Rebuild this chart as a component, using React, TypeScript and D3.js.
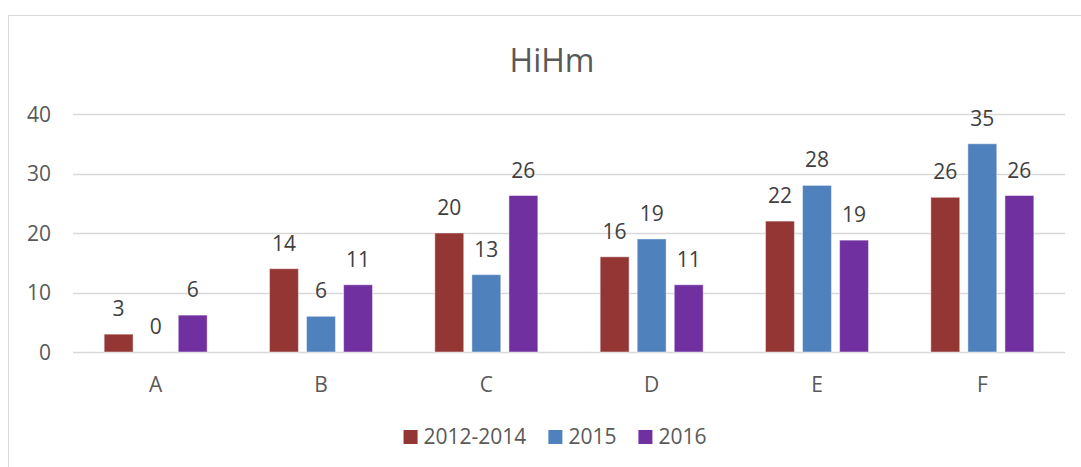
import React, { useEffect, useRef } from 'react';
import * as d3 from 'd3';

const categories = ['A', 'B', 'C', 'D', 'E', 'F'];
const seriesNames = ['2012-2014', '2015', '2016'];
const values2012to2014 = [3, 14, 20, 16, 22, 26];
const values2015 = [0, 6, 13, 19, 28, 35];
const values2016 = [6.2, 11.3, 26.3, 11.3, 18.8, 26.3];
const yTicks = [0, 10, 20, 30, 40];
const colors = ['#943634', '#4f81bd', '#7030a0'];
const title = 'HiHm';

const FONT = '"Open Sans", sans-serif';

const App = () => {
  const svgRef = useRef<SVGSVGElement>(null);

  useEffect(() => {
    const svg = d3.select(svgRef.current);
    svg.selectAll('*').remove();

    const width = 1081;
    const height = 467;
    const plot = { left: 73, right: 1065, top: 114, bottom: 352 };

    svg.attr('width', width).attr('height', height);

    // chart frame (cut off at the right and bottom, like the reference)
    svg.append('rect')
      .attr('x', 8.5)
      .attr('y', 15.5)
      .attr('width', 1200)
      .attr('height', 600)
      .attr('fill', '#fff')
      .attr('stroke', '#d9d9d9');

    const y = d3.scaleLinear().domain([0, 40]).range([plot.bottom, plot.top]);

    const x0 = d3.scaleBand()
      .domain(categories)
      .range([plot.left, plot.right])
      .paddingInner(0.377)
      .paddingOuter(0.1885);

    const x1 = d3.scaleBand()
      .domain(seriesNames)
      .range([0, x0.bandwidth()])
      .paddingInner(0.22);

    // gridlines
    svg.append('g')
      .selectAll('line')
      .data(yTicks)
      .enter().append('line')
      .attr('x1', plot.left)
      .attr('x2', plot.right)
      .attr('y1', d => Math.round(y(d)) + 0.5)
      .attr('y2', d => Math.round(y(d)) + 0.5)
      .attr('stroke', '#d9d9d9')
      .attr('stroke-width', 1.3);

    // y labels
    svg.append('g')
      .selectAll('text')
      .data(yTicks)
      .enter().append('text')
      .attr('x', 51)
      .attr('y', d => y(d) + 7.5)
      .attr('text-anchor', 'end')
      .style('font-family', FONT)
      .style('font-size', '21px')
      .attr('fill', '#595959')
      .text(d => d);

    // category labels
    svg.append('g')
      .selectAll('text')
      .data(categories)
      .enter().append('text')
      .attr('x', d => (x0(d) as number) + x0.bandwidth() / 2)
      .attr('y', 392)
      .attr('text-anchor', 'middle')
      .style('font-family', FONT)
      .style('font-size', '21px')
      .attr('fill', '#595959')
      .text(d => d);

    const allSeries = [values2012to2014, values2015, values2016];
    const rows = categories.map((c, i) => ({
      category: c,
      items: seriesNames.map((s, j) => ({ series: s, value: allSeries[j][i], color: colors[j] })),
    }));

    const groups = svg.append('g')
      .selectAll('g')
      .data(rows)
      .enter().append('g')
      .attr('transform', d => `translate(${x0(d.category)},0)`);

    groups.selectAll('rect')
      .data(d => d.items)
      .enter().append('rect')
      .attr('x', d => x1(d.series) as number)
      .attr('width', x1.bandwidth())
      .attr('y', d => y(d.value))
      .attr('height', d => y(0) - y(d.value))
      .attr('fill', d => d.color)
      .attr('stroke', '#ffffff')
      .attr('stroke-opacity', 0.45)
      .attr('stroke-width', 1);

    groups.selectAll('text')
      .data(d => d.items)
      .enter().append('text')
      .attr('x', d => (x1(d.series) as number) + x1.bandwidth() / 2)
      .attr('y', d => y(d.value) - 18)
      .attr('text-anchor', 'middle')
      .style('font-family', FONT)
      .style('font-size', '21px')
      .attr('fill', '#404040')
      .text(d => d3.format('.0f')(d.value));

    // title
    svg.append('text')
      .attr('x', 552)
      .attr('y', 72)
      .attr('text-anchor', 'middle')
      .style('font-family', FONT)
      .style('font-size', '32px')
      .attr('fill', '#595959')
      .text(title);

    // legend
    const legend = svg.append('g');
    let cursor = 0;
    seriesNames.forEach((name, i) => {
      const item = legend.append('g').attr('transform', `translate(${cursor},0)`);
      item.append('rect')
        .attr('x', 0)
        .attr('y', 430)
        .attr('width', 14)
        .attr('height', 14)
        .attr('fill', colors[i]);
      const t = item.append('text')
        .attr('x', 20)
        .attr('y', 444)
        .style('font-family', FONT)
        .style('font-size', '21px')
        .attr('fill', '#595959')
        .text(name);
      const w = (t.node() as SVGTextElement).getComputedTextLength();
      cursor += 20 + w + 22;
    });
    const legendWidth = cursor - 22;
    legend.attr('transform', `translate(${555 - legendWidth / 2},0)`);
  }, []);

  return (
    <div style={{ position: 'absolute', left: 0, top: 0 }}>
      <svg ref={svgRef} style={{ display: 'block' }}></svg>
    </div>
  );
};

export default App;
